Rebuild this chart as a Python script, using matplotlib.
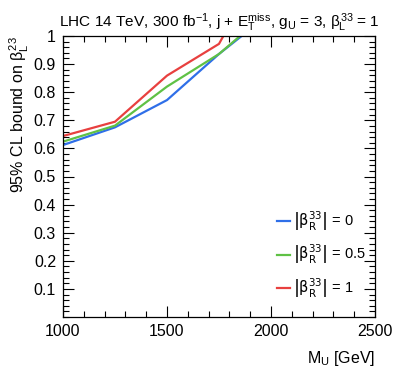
import matplotlib
matplotlib.use("Agg")
import matplotlib.pyplot as plt
from matplotlib.ticker import MultipleLocator

plt.rcParams['font.family'] = ['Liberation Sans', 'DejaVu Sans']
plt.rcParams['mathtext.fontset'] = 'custom'
plt.rcParams['mathtext.rm'] = 'Liberation Sans'
plt.rcParams['mathtext.it'] = 'Liberation Sans'
plt.rcParams['mathtext.bf'] = 'Liberation Sans:bold'

# mass points [GeV] and 95% CL bounds
mass = [1000, 1250, 1500, 1750, 2000]
bound_b0 = [0.612, 0.675, 0.772, 0.936, 1.083]
bound_b05 = [0.624, 0.681, 0.820, 0.936, 1.094]
bound_b1 = [0.644, 0.695, 0.859, 0.972, 1.305]

series_labels = [r'$\left|\mathrm{\beta}^{33}_{\mathrm{R}}\right|$ = 0',
                 r'$\left|\mathrm{\beta}^{33}_{\mathrm{R}}\right|$ = 0.5',
                 r'$\left|\mathrm{\beta}^{33}_{\mathrm{R}}\right|$ = 1']
series_colors = ['#2f6fe8', '#5fc145', '#e8403f']

x_ticks = [1000, 1500, 2000, 2500]
x_ticklabels = ['1000', '1500', '2000', '2500']
y_ticks = [0.1, 0.2, 0.3, 0.4, 0.5, 0.6, 0.7, 0.8, 0.9, 1.0]
y_ticklabels = ['0.1', '0.2', '0.3', '0.4', '0.5', '0.6', '0.7', '0.8', '0.9', '1']

fig = plt.figure(figsize=(3.95, 3.79), dpi=100)
ax = fig.add_axes([63/395, 1-317/379, 312/395, 281/379])

for ys, lab, c in zip([bound_b0, bound_b05, bound_b1], series_labels, series_colors):
	ax.plot(mass, ys, color=c, lw=1.6, label=lab)

ax.set_xlim(1000, 2500)
ax.set_ylim(0, 1)
ax.set_xticks(x_ticks, x_ticklabels)
ax.set_yticks(y_ticks, y_ticklabels)
ax.xaxis.set_minor_locator(MultipleLocator(100))
ax.yaxis.set_minor_locator(MultipleLocator(0.02))
ax.tick_params(which='both', direction='in', top=True, right=True, labelsize=11.5, width=0.8)
ax.tick_params(which='major', length=8, pad=5)
ax.tick_params(which='minor', length=4)
for s in ax.spines.values():
	s.set_linewidth(0.9)

ax.set_title(r'LHC 14 TeV, 300 fb$^{-1}$, j + E$_{T}^{miss}$, g$_{U}$ = 3, $\beta_{L}^{33}$ = 1',
	fontsize=11.1, pad=7)
ax.set_ylabel(r'95% CL bound on $\beta_{L}^{23}$', fontsize=11.5, ha='right', va='baseline')
ax.yaxis.set_label_coords(-0.122, 1.0)
ax.set_xlabel(r'M$_{U}$ [GeV]', fontsize=11.5, ha='right')
ax.xaxis.set_label_coords(1.0, -0.115)

ax.legend(loc='center left', bbox_to_anchor=(0.685, 0.222), frameon=False,
	prop=dict(family='Liberation Sans', size=10.5, math_fontfamily='dejavusans'),
	handlelength=0.9, handletextpad=0.2, labelspacing=0.7, borderpad=0, borderaxespad=0)

fig.savefig('out.png', dpi=100)
